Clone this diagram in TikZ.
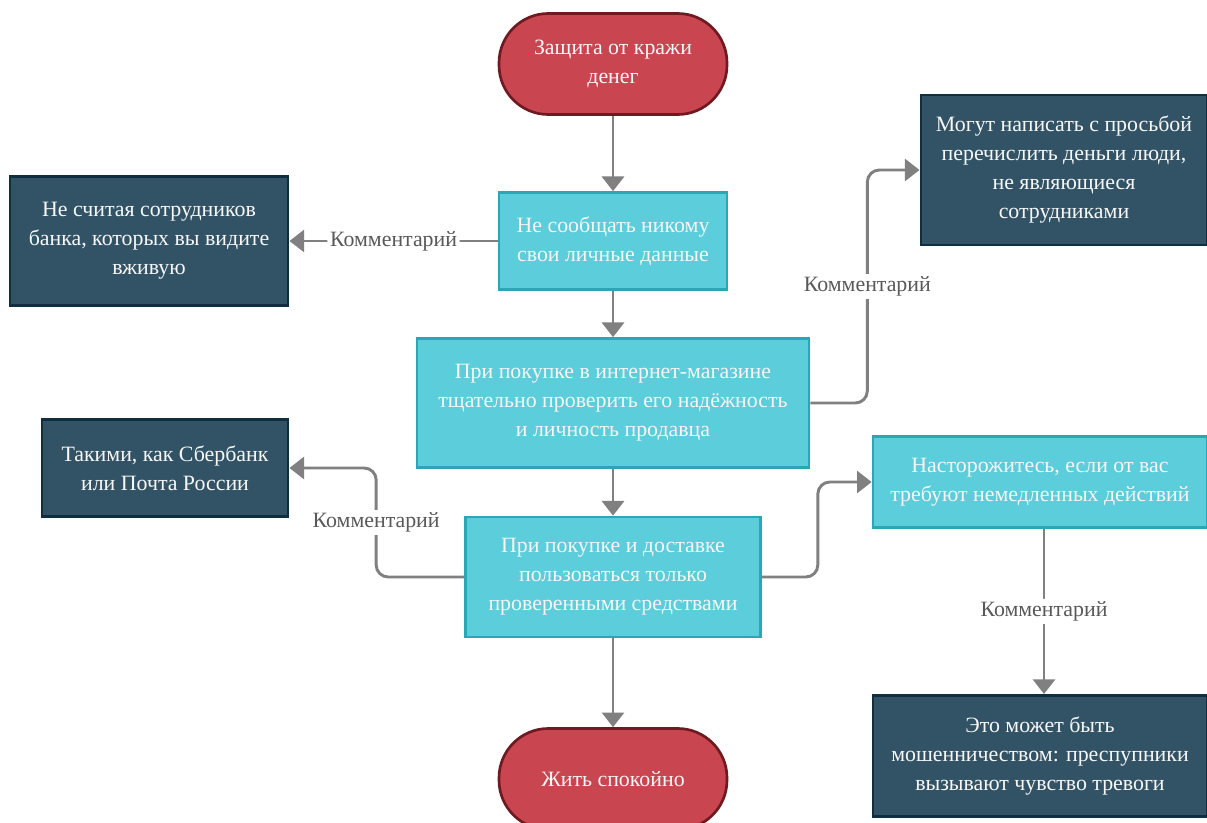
\documentclass[tikz,border=0pt]{standalone}
\usepackage{fontspec}
\setmainfont{Liberation Serif}
\newfontfamily\diagfont{Liberation Serif}
\usetikzlibrary{arrows.meta,calc}
\definecolor{redfill}{HTML}{C9454F}
\definecolor{redline}{HTML}{6E1A20}
\definecolor{cyanfill}{HTML}{5BCDDB}
\definecolor{cyanline}{HTML}{2BA6B5}
\definecolor{darkfill}{HTML}{325366}
\definecolor{darkline}{HTML}{0F2E42}
\definecolor{connclr}{HTML}{808080}
\definecolor{lblclr}{HTML}{595959}
\definecolor{txtclr}{HTML}{F7F7F7}
\tikzset{
  basebox/.style={align=center, inner sep=0pt, text=txtclr,
    font=\diagfont\fontsize{16.4}{21.75}\selectfont},
  term/.style={basebox, draw=redline, fill=redfill, line width=2pt,
    rounded corners=37pt, minimum width=171pt, minimum height=75.75pt},
  stepbox/.style={basebox, draw=cyanline, fill=cyanfill, line width=2pt},
  notebox/.style={basebox, draw=darkline, fill=darkfill, line width=2.2pt},
  conn/.style={draw=connclr, line width=2.2pt, rounded corners=9pt,
    -{Triangle[width=16.5pt,length=11pt]}},
  lbl/.style={fill=white, text=lblclr, inner sep=2pt,
    font=\diagfont\fontsize{16.4}{19}\selectfont}
}
\begin{document}
\begin{tikzpicture}[x=0.75pt,y=-0.75pt]
\useasboundingbox (0,0) rectangle (1207,823);
\clip (0,0) rectangle (1207,823);

\node[term] (start) at (613,64) {Защита от кражи\\денег};
\node[stepbox, minimum width=171pt, minimum height=72.75pt] (n1) at (613,241)
  {Не сообщать никому\\свои личные данные};
\node[notebox, minimum width=208.5pt, minimum height=96.75pt] (c1) at (149,241)
  {Не считая сотрудников\\банка, которых вы видите\\вживую};
\node[stepbox, minimum width=294pt, minimum height=96.75pt] (n2) at (613,403)
  {При покупке в интернет-магазине\\тщательно проверить его надёжность\\и личность продавца};
\node[notebox, minimum width=214.5pt, minimum height=112.5pt] (c2) at (1064,170)
  {Могут написать с просьбой\\перечислить деньги люди,\\не являющиеся\\сотрудниками};
\node[notebox, minimum width=184.5pt, minimum height=72.75pt] (c3) at (165,468)
  {Такими, как Сбербанк\\или Почта России};
\node[stepbox, minimum width=221.25pt, minimum height=90pt] (n3) at (613,577)
  {При покупке и доставке\\пользоваться только\\проверенными средствами};
\node[stepbox, minimum width=250.5pt, minimum height=68.25pt] (n4) at (1040,482)
  {Насторожитесь, если от вас\\требуют немедленных действий};
\node[notebox, minimum width=250.5pt, minimum height=90.75pt] (c4) at (1040,756)
  {Это может быть\\мошенничеством: преспупники\\вызывают чувство тревоги};
\node[term] (end) at (613,779) {Жить спокойно};

\draw[conn] (start) -- (n1);
\draw[conn] (n1) -- (n2);
\draw[conn] (n2) -- (n3);
\draw[conn] (n3) -- (end);
\draw[conn] (n1.west) -- node[lbl]{Комментарий} (c1.east);
\draw[conn] (n2.east) -- ++(57,0) coordinate (a2)
  -- node[lbl]{Комментарий} (a2 |- c2.west) -- (c2.west);
\draw[conn] (n3.west) -- ++(-88,0) coordinate (a3)
  -- node[lbl]{Комментарий} (a3 |- c3.east) -- (c3.east);
\draw[conn] (n3.east) -- ++(56,0) coordinate (a4)
  -- (a4 |- n4.west) -- (n4.west);
\draw[conn] ([xshift=3pt]n4.south) -- node[lbl]{Комментарий} ([xshift=3pt]c4.north);
\end{tikzpicture}
\end{document}
